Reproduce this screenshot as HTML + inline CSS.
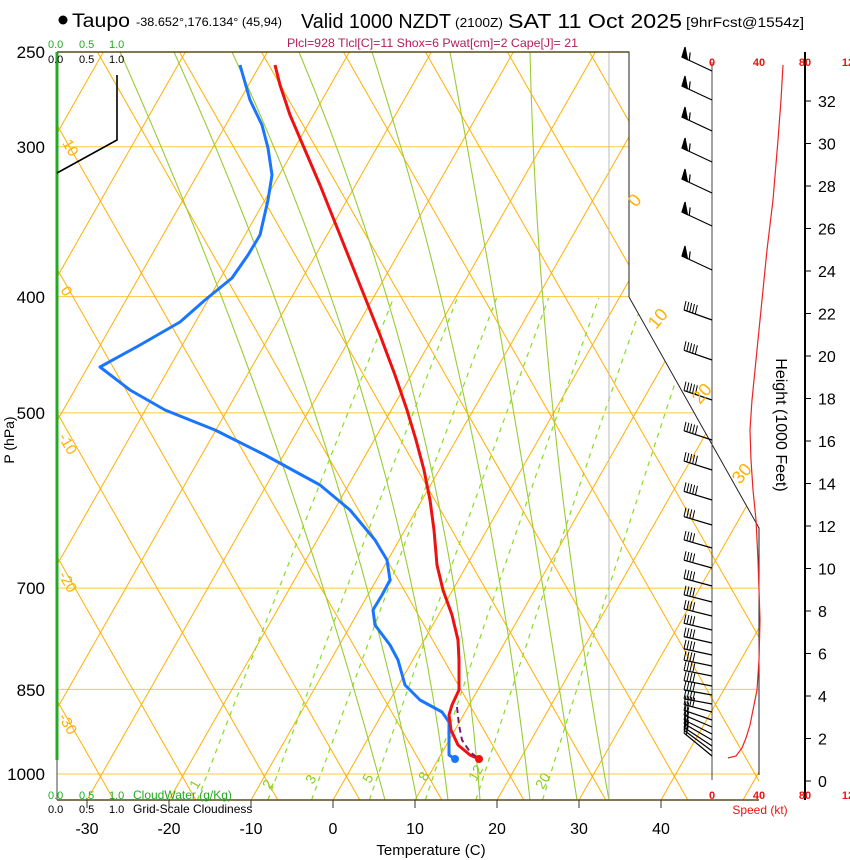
<!DOCTYPE html>
<html><head><meta charset="utf-8"><style>
html,body{margin:0;padding:0;background:#fff;}
svg{display:block;font-family:"Liberation Sans",sans-serif;}
</style></head><body>
<svg id="s" width="850" height="860" viewBox="0 0 850 860" xmlns="http://www.w3.org/2000/svg">
<defs><clipPath id="cp"><polygon points="57,52 629,52 629,297 759,528 759,800 57,800"/></clipPath></defs>
<g id="grid" clip-path="url(#cp)"></g>
<polyline points="57,52 629,52 629,297 759,528 759,775" fill="none" stroke="#222" stroke-width="1"/>
<line x1="57" y1="52" x2="629" y2="52" stroke="#5a4a1a" stroke-width="1.5"/>
<line x1="57" y1="800" x2="759" y2="800" stroke="#5a4a1a" stroke-width="1.5"/>
<line x1="57" y1="52" x2="57" y2="760" stroke="#22aa22" stroke-width="3"/>
<line x1="57" y1="760" x2="57" y2="800" stroke="#444" stroke-width="1"/>
<polyline points="57,173 117,140 117,75" fill="none" stroke="#000" stroke-width="1.6"/>
<polyline fill="none" stroke="#1a75ff" stroke-width="3" stroke-linejoin="round" points="240,65 250,100 262,125 268,148 272,175 268,200 260,235 248,255 232,278 205,300 180,322 140,345 100,367 130,390 165,410 215,430 265,455 320,485 350,510 375,540 387,560 390,580 382,595 373,610 375,625 390,645 398,660 405,685 420,700 442,712 449,722 449,755 455,759"/>
<polyline fill="none" stroke="#ee1111" stroke-width="3" stroke-linejoin="round" points="275,65 280,85 290,115 305,150 320,185 340,235 360,285 380,335 395,375 407,410 416,440 424,470 430,500 434,530 437,565 443,590 452,615 458,640 459,660 459,690 452,705 449,715 451,730 458,745 470,755 479,759"/>
<polyline fill="none" stroke="#7a1a6a" stroke-width="2" stroke-dasharray="6,4" points="457,707 459,725 462,740 470,752 479,759"/>
<circle cx="455" cy="759" r="4" fill="#1a75ff"/>
<circle cx="479" cy="759" r="4" fill="#ee1111"/>
<line x1="712" y1="62" x2="712" y2="780" stroke="#444" stroke-width="1"/>
<line x1="805" y1="52" x2="805" y2="800" stroke="#000" stroke-width="2"/>
<g id="barbs" stroke="#000" fill="#000" stroke-width="1.2"></g>
<polyline fill="none" stroke="#ee2222" stroke-width="1.2" points="728,758 736,756 742,748 746,738 750,725 753,710 757,690 759,660 760,620 759,590 758,560 756,520 753,490 751,460 750,430 752,400 756,360 762,300 767,250 773,200 778,140 781,100 783,65"/>
<g id="hticks" font-size="16" fill="#000"></g>
<g font-size="11" font-weight="bold" fill="#ee1111" text-anchor="middle">
<text x="712" y="66">0</text><text x="759" y="66">40</text><text x="805" y="66">80</text><text x="848" y="66">12</text>
<text x="712" y="799">0</text><text x="759" y="799">40</text><text x="805" y="799">80</text><text x="848" y="799">12</text>
</g>
<text x="760" y="814" font-size="12" fill="#ee1111" text-anchor="middle">Speed (kt)</text>
<text transform="translate(776,425) rotate(90)" font-size="16" text-anchor="middle" fill="#000">Height (1000 Feet)</text>
<g font-size="17" text-anchor="end" fill="#000">
<text x="45" y="58">250</text><text x="45" y="153">300</text><text x="45" y="303">400</text><text x="45" y="419">500</text><text x="45" y="594">700</text><text x="45" y="696">850</text><text x="45" y="780">1000</text>
</g>
<text transform="translate(14,440) rotate(-90)" font-size="14" text-anchor="middle">P (hPa)</text>
<g id="tt" font-size="16" text-anchor="middle"></g>
<text x="431" y="855" font-size="15" text-anchor="middle">Temperature (C)</text>
<g font-size="11">
<text x="48" y="48" fill="#22aa22">0.0</text><text x="79" y="48" fill="#22aa22">0.5</text><text x="109" y="48" fill="#22aa22">1.0</text>
<text x="48" y="63">0.0</text><text x="79" y="63">0.5</text><text x="109" y="63">1.0</text>
<text x="48" y="799" fill="#22aa22">0.0</text><text x="79" y="799" fill="#22aa22">0.5</text><text x="109" y="799" fill="#22aa22">1.0</text>
<text x="133" y="799" fill="#22aa22" font-size="12">CloudWater (g/Kg)</text>
<text x="48" y="813">0.0</text><text x="79" y="813">0.5</text><text x="109" y="813">1.0</text>
<text x="133" y="813" font-size="12">Grid-Scale Cloudiness</text>
</g>
<circle cx="63" cy="20" r="4.5" fill="#000"/>
<text x="72" y="27" font-size="19" textLength="58" lengthAdjust="spacingAndGlyphs">Taupo</text>
<text x="136" y="26" font-size="11.5" textLength="146" lengthAdjust="spacingAndGlyphs">-38.652°,176.134° (45,94)</text>
<text x="301" y="28" font-size="20" textLength="150" lengthAdjust="spacingAndGlyphs">Valid 1000 NZDT</text>
<text x="455" y="27" font-size="13" textLength="48" lengthAdjust="spacingAndGlyphs">(2100Z)</text>
<text x="508" y="28" font-size="20" textLength="174" lengthAdjust="spacingAndGlyphs">SAT 11 Oct 2025</text>
<text x="686" y="27" font-size="14" textLength="118" lengthAdjust="spacingAndGlyphs">[9hrFcst@1554z]</text>
<text x="287" y="47" font-size="12" fill="#b0205a" textLength="291" lengthAdjust="spacingAndGlyphs">Plcl=928 Tlcl[C]=11 Shox=6 Pwat[cm]=2 Cape[J]= 21</text>
<g id="olab" font-size="15" fill="#ffb000"></g>
<g id="glab" font-size="14" fill="#88cc22"></g>
</svg>
<script>
(function(){
var NS="http://www.w3.org/2000/svg";
function el(p,t,a,txt){var e=document.createElementNS(NS,t);for(var k in a)e.setAttribute(k,a[k]);if(txt!==undefined)e.textContent=txt;p.appendChild(e);return e;}
var K=0.57;
function yP(p){return 774-521*Math.log(1000/p);}
function xT(T,y){return 333+8.2*T+K*(800-y);}
var g=document.getElementById('grid');
[300,400,500,700,850,1000].forEach(function(p){var y=yP(p);el(g,'line',{x1:57,y1:y,x2:760,y2:y,stroke:'#ffc840','stroke-width':1});});
for(var k=-20;k<25;k++){
 var x0=333+82*k;
 el(g,'line',{x1:x0,y1:800,x2:x0+K*760,y2:40,stroke:'#ffb000','stroke-width':1});
 var c=113.8+82*k;
 el(g,'line',{x1:c,y1:800,x2:c-K*760,y2:40,stroke:'#ffb000','stroke-width':1});
}
[1,2,3,5,8,12,20].forEach(function(w){
 var pts=[];
 for(var p=1051;p>=400;p-=10){var e=w*p/(622+w);var l=Math.log(e/6.112);var Td=243.5*l/(17.67-l);var y=yP(p);pts.push(xT(Td,y).toFixed(1)+','+y.toFixed(1));}
 el(g,'polyline',{points:pts.join(' '),fill:'none',stroke:'#88dd22','stroke-width':1.2,'stroke-dasharray':'5,5'});
});
// moist adiabats (hand-fit)
[[120,267,385],[174,317,417],[232,370,448],[299,420,480],[372,469,530],[450,515,577],[530,554,609]].forEach(function(a){
 var cx=2*a[1]-(a[0]+a[2])/2, cy=2*420-(52+800)/2;
 el(g,'path',{d:'M'+a[0]+',52 Q'+cx+','+cy+' '+a[2]+',800',fill:'none',stroke:'#99cc33','stroke-width':1.1});
});
el(g,'line',{x1:609,y1:52,x2:609,y2:800,stroke:'#bbbbbb','stroke-width':1});
var tt=document.getElementById('tt');
for(var t=-30;t<=40;t+=10){var x=333+8.2*t;el(tt,'line',{x1:x,y1:800,x2:x,y2:808,stroke:'#333'});el(tt,'text',{x:x,y:834},String(t));}
var ht=document.getElementById('hticks');
for(var h=0;h<=32;h+=2){var y=781-21.25*h;el(ht,'line',{x1:805,y1:y,x2:811,y2:y,stroke:'#000'});el(ht,'text',{x:818,y:y+6},String(h));}
var ol=document.getElementById('olab');
[["10",62,143],["0",60,290],["-10",58,437],["-20",58,575],["-30",58,717]].forEach(function(a){el(ol,'text',{transform:'translate('+a[1]+','+a[2]+') rotate(60)'},a[0]);});
[["0",636,208],["10",656,330],["20",700,405],["30",740,485]].forEach(function(a){el(ol,'text',{transform:'translate('+a[1]+','+a[2]+') rotate(-50)',"font-size":18},a[0]);});
var gl=document.getElementById('glab');
[["1",197,790],["2",270,790],["3",313,785],["5",370,784],["8",426,782],["12",476,782],["20",543,790]].forEach(function(a){el(gl,'text',{transform:'translate('+a[1]+','+a[2]+') rotate(-60)'},a[0]);});
var b=document.getElementById('barbs');
function barb(y,dx,dy,n,flag){
 var x1=712-dx,y1=y-dy;
 el(b,'line',{x1:712,y1:y,x2:x1,y2:y1});
 var L=Math.sqrt(dx*dx+dy*dy),ux=dx/L,uy=dy/L;
 if(flag){el(b,'polygon',{points:x1+','+y1+' '+(x1+3)+','+(y1-10)+' '+(x1+6*ux)+','+(y1+6*uy)});
  el(b,'line',{x1:x1+8*ux,y1:y1+8*uy,x2:x1+9*ux,y2:y1+8*uy-8});}
 else for(var i=0;i<n;i++){var px=712-dx+i*3*ux,py=y-dy+i*3*uy;el(b,'line',{x1:px,y1:py,x2:px+2,y2:py-9,'stroke-width':1});}
}
[71,100,131,162,193,226,270].forEach(function(y){barb(y,30,14,0,true);});
var ys=[320,360,400,440,470,500,525,548,568,586,602,616,630,643,655,666,676,686,695,704,712,720,727,734,740,746,751,756];
ys.forEach(function(y,i){var f=i/(ys.length-1);var dy=10-5*Math.min(1,f*1.5)+ (f>0.7? (f-0.7)*60:0);barb(y,28,Math.min(dy,26),f>0.75?2:(f<0.2?5:4),false);});
})();
</script>
</body></html>
